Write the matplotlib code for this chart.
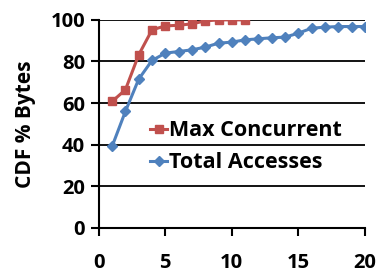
import matplotlib
matplotlib.use("Agg")
import matplotlib.pyplot as plt

x_max = [1, 2, 3, 4, 5, 6, 7, 8, 9, 10, 11]
max_concurrent = [60.8, 66.4, 83.2, 95.2, 97.1, 97.4, 98.1, 99.5, 100, 100, 100]
x_total = list(range(1, 21))
total_accesses = [39.2, 56.0, 71.5, 80.5, 84.0, 84.8, 85.6, 86.9, 88.8, 89.3,
                  90.4, 90.9, 91.4, 91.7, 93.6, 96.0, 96.5, 96.8, 96.8, 96.8]
xticks = [0, 5, 10, 15, 20]
yticks = [0, 20, 40, 60, 80, 100]

plt.rcParams['font.family'] = ['Open Sans', 'DejaVu Sans']
plt.rcParams['font.weight'] = 'bold'

fig = plt.figure(figsize=(3.8, 2.8), dpi=100)
ax = fig.add_axes([0.26, 0.186, 0.70, 0.743])

red = '#C0504D'
blue = '#4F81BD'
ax.plot(x_max, max_concurrent, color=red, lw=2.2, marker='s', ms=6,
        label='Max Concurrent', zorder=3)
ax.plot(x_total, total_accesses, color=blue, lw=2.2, marker='D', ms=5,
        label='Total Accesses', zorder=3)

ax.set_xlim(0, 20)
ax.set_ylim(0, 100)
ax.set_xticks(xticks)
ax.set_yticks(yticks)
ax.yaxis.grid(True, color='black', lw=1.3)
ax.set_axisbelow(True)
for s in ['top', 'right']:
    ax.spines[s].set_visible(False)
for s in ['left', 'bottom']:
    ax.spines[s].set_linewidth(1.5)
ax.tick_params(axis='x', direction='out', length=6, width=1.5, pad=12, labelsize=14.5)
ax.tick_params(axis='y', direction='out', length=6, width=1.5, pad=4, labelsize=14.5)
for lab in ax.get_xticklabels() + ax.get_yticklabels():
    lab.set_fontweight('bold')
ax.set_ylabel('CDF % Bytes', fontsize=15, fontweight='bold', labelpad=10)

leg = ax.legend(loc='center left', bbox_to_anchor=(0.12, 0.39), frameon=False,
                handlelength=0.8, handletextpad=0.1, labelspacing=0.5,
                prop={'size': 15.5, 'weight': 'bold'})

fig.savefig('out.png', dpi=100)
